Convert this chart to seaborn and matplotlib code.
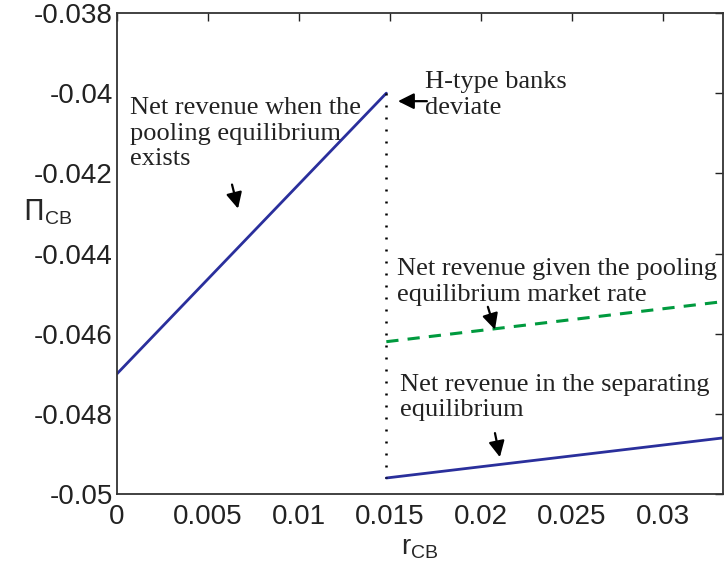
import numpy as np
import pandas as pd
import matplotlib
matplotlib.use("Agg")
import matplotlib.pyplot as plt
import seaborn as sns

# -----------------------------
# Datos
# -----------------------------
r_pool = [0.0, 0.0148]
pi_pool = [-0.0470, -0.0400]

r_sep = [0.0148, 0.0333]
pi_market = [-0.0462, -0.0452]
pi_sep = [-0.0496, -0.0486]

r_dev = 0.0148
pi_dev = [-0.0400, -0.0496]

x_ticks = [0, 0.005, 0.01, 0.015, 0.02, 0.025, 0.03]
x_tick_labels = ["0", "0.005", "0.01", "0.015", "0.02", "0.025", "0.03"]
y_ticks = [-0.05, -0.048, -0.046, -0.044, -0.042, -0.04, -0.038]
y_tick_labels = ["-0.05", "-0.048", "-0.046", "-0.044", "-0.042", "-0.04", "-0.038"]

df_pool = pd.DataFrame({"r": r_pool, "pi": pi_pool})
df_market = pd.DataFrame({"r": r_sep, "pi": pi_market})
df_sep = pd.DataFrame({"r": r_sep, "pi": pi_sep})
df_dev = pd.DataFrame({"r": [r_dev, r_dev], "pi": pi_dev})

# -----------------------------
# Estilo
# -----------------------------
sns.set_style("white")
plt.rcParams["font.family"] = ["Liberation Sans", "DejaVu Sans"]

blue = "#2a2f9c"
green = "#009a3e"

fig = plt.figure(figsize=(7.25, 5.67), dpi=100)
ax = fig.add_axes([0.1614, 0.1287, 0.8358, 0.8484])

sns.lineplot(data=df_pool, x="r", y="pi", color=blue, lw=2, ax=ax)
sns.lineplot(data=df_market, x="r", y="pi", color=green, lw=2.2, ls=(0, (4, 3)), ax=ax)
sns.lineplot(data=df_sep, x="r", y="pi", color=blue, lw=2, ax=ax)
# línea vertical: sin agregación (mismo x)
sns.lineplot(data=df_dev, x="r", y="pi", color="black", lw=1.8, ls=(0, (0.8, 4)),
             estimator=None, sort=False, ax=ax)

ax.set_xlim(0, 0.0333)
ax.set_ylim(-0.05, -0.038)
ax.set_xticks(x_ticks)
ax.set_xticklabels(x_tick_labels)
ax.set_yticks(y_ticks)
ax.set_yticklabels(y_tick_labels)
ax.tick_params(direction="in", length=6, width=1, labelsize=20, colors="#222222",
               top=True, right=True)
ax.tick_params(axis="x", pad=7)
ax.tick_params(axis="y", pad=3)
for s in ax.spines.values():
    s.set_linewidth(1.3)
    s.set_color("#333333")

ax.set_xlabel(r"r$_{\mathregular{CB}}$", fontsize=20, labelpad=4)
ax.set_ylabel(r"$\Pi_{\mathregular{CB}}$", fontsize=20, rotation=0)
ax.yaxis.set_label_coords(-0.115, 0.555)

# -----------------------------
# Anotaciones
# -----------------------------
serif = {"family": ["Liberation Serif", "DejaVu Serif"], "size": 19, "color": "#222222"}
ax.text(0.0007, -0.04010, "Net revenue when the\npooling equilibrium\nexists",
        va="top", ha="left", linespacing=1.2, **serif)
ax.text(0.0169, -0.03945, "H-type banks\ndeviate", va="top", ha="left", linespacing=1.2, **serif)
ax.text(0.01538, -0.04412, "Net revenue given the pooling\nequilibrium market rate",
        va="top", ha="left", linespacing=1.2, **serif)
ax.text(0.01555, -0.04700, "Net revenue in the separating\nequilibrium",
        va="top", ha="left", linespacing=1.2, **serif)

arrow = dict(arrowstyle="-|>,head_length=0.6,head_width=0.3", color="black", lw=1.6,
             mutation_scale=16, shrinkA=0, shrinkB=0)
ax.annotate("", xy=(0.00665, -0.04288), xytext=(0.00632, -0.04228), arrowprops=arrow)
ax.annotate("", xy=(0.01544, -0.0402), xytext=(0.01703, -0.0402), arrowprops=arrow)
ax.annotate("", xy=(0.02077, -0.0459), xytext=(0.02038, -0.04533), arrowprops=arrow)
ax.annotate("", xy=(0.02104, -0.04908), xytext=(0.02077, -0.04848), arrowprops=arrow)

fig.savefig("out.png", dpi=100)
